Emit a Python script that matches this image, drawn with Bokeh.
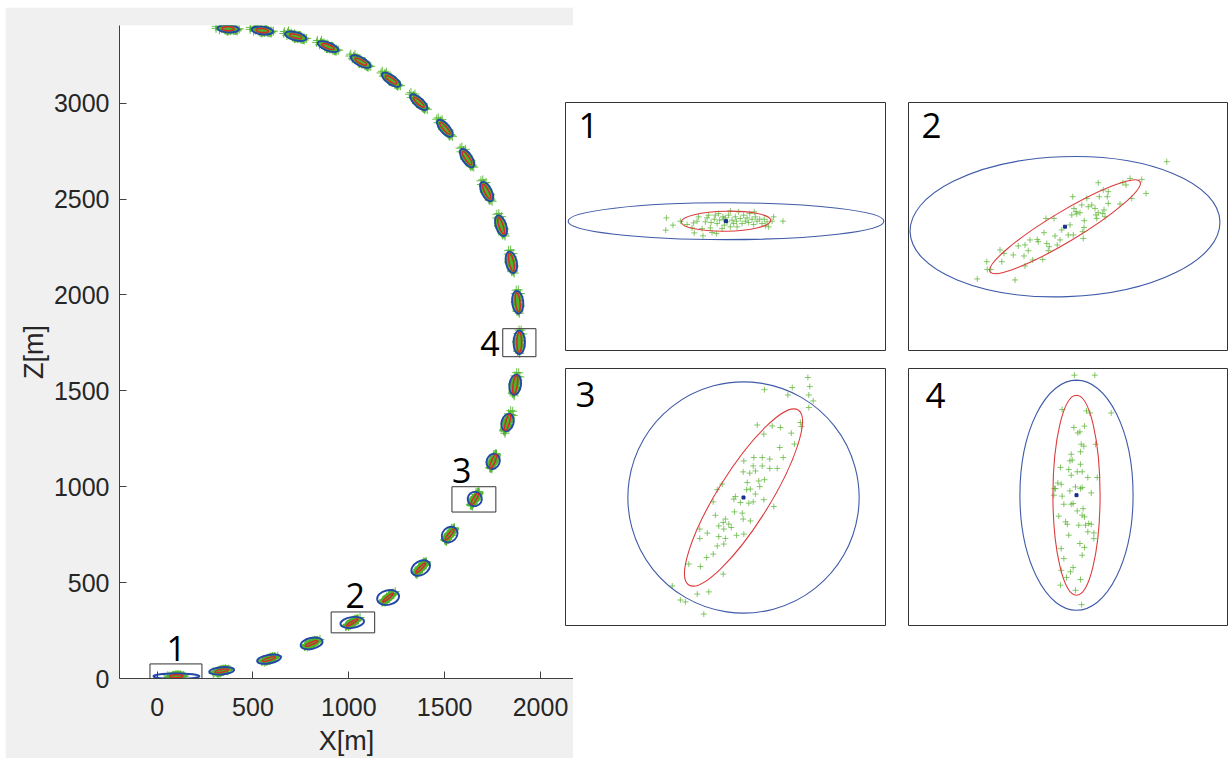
import numpy as np
from bokeh.plotting import figure
from bokeh.models import ColumnDataSource, FixedTicker, Label, Spacer, BoxAnnotation
from bokeh.layouts import row, column
from bokeh.core.properties import value
from bokeh.embed import file_html
from bokeh.resources import INLINE

# ---------------- data (metres) ----------------
traj_x = [101, 337, 584, 806, 1018, 1205, 1375, 1526, 1657, 1753, 1828, 1868, 1889,
          1881, 1848, 1794, 1719, 1617, 1501, 1365, 1221, 1062, 892, 723, 549, 371]
traj_z = [12, 40, 101, 183, 292, 422, 576, 750, 936, 1132, 1335, 1532, 1753,
          1962, 2170, 2361, 2539, 2713, 2869, 3005, 3122, 3217, 3295, 3349, 3379, 3388]

# blue (outer) uncertainty ellipse: semi-axes and orientation (deg)
blue_a = [120, 65, 63, 58, 62, 58, 52, 45, 37, 40, 46, 53, 61,
          59, 57, 56, 55, 55, 55, 56, 56, 57, 57, 57, 56, 56]
blue_b = [14, 19, 22, 29, 28, 38, 36, 37, 37, 34, 31, 30, 30,
          29, 28, 27, 26, 25, 24, 23, 23, 22, 21, 21, 20, 19]
blue_ang = [0, 5, 10, 12, 8, 12, 30, 45, 60, 67, 74, 82, 90,
            96, 102, 109, 117, 124, 131, 138, 145, 152, 159, 166, 174, 177]

# red (inner) ellipse
red_a = [34, 35, 35, 35, 35, 36, 36, 36, 33, 38, 43, 48, 53,
         50, 47, 45, 43, 41, 39, 37, 35, 34, 33, 32, 32, 31]
red_b = [7.6, 7.5, 7, 6.5, 6, 6.5, 7, 7.5, 8.3, 9, 10, 11, 12.5,
         12, 12, 11, 11, 11, 10, 10, 10, 10, 10, 10, 10, 10]
red_ang = [1, 10, 17, 24, 31, 38, 46, 52, 58, 67, 74, 82, 90,
           96, 102, 109, 117, 124, 131, 138, 145, 152, 159, 166, 174, 177]

# sample clouds (offsets in m from the estimate)
in1_dx = [-45.3, -45.8, -40.3, -29.6, -24.6, -24.1, -22.0, -20.8, -18.2, -17.5, -15.7, -14.4, -13.2, -11.4, -10.6,
          -8.9, -7.3, -6.8, -4.8, -3.0, -2.3, -1.8, -1.3, -0.5, 0.8, 2.0, 3.3, 4.6, 5.8, 7.1, 7.9, 9.6, 10.9, 12.2,
          13.4, 14.7, 16.0, 17.2, 18.0, 19.8, 21.0, 22.3, 23.6, 25.6, 27.4, 29.9, 31.2, 32.4, 35.0, 36.2, 43.3,
          -34.7, -25.8, -5.6, 3.3, 21.5, 29.1, -11.9, -8.1, 8.4]
in1_dz = [2.5, -6.8, -3.0, -2.5, -1.3, -8.9, 0.0, 3.3, -5.6, -11.1, -0.5, 2.5, 4.6, -1.0, -8.6,
          1.5, -9.4, -1.8, 0.8, -5.6, 3.3, 1.5, -3.0, 2.5, -0.5, 4.6, -4.3, 0.8, -1.8, 3.3, 0.0, 7.1, 2.0, -1.8,
          4.6, 0.0, 2.5, -1.0, 5.8, 1.5, -2.5, 3.3, 0.0, 1.5, -1.8, -3.5, -0.5, -4.3, 0.0, 3.3, 0.0,
          0.0, -5.1, 5.8, 7.6, 7.1, 1.5, -5.1, 4.6, -4.3]

in2_dx = [40.7, 26.0, 30.7, 32.4, 24.4, 23.1, 13.3, 15.3, 17.3, 13.7, 16.9, 26.7, 17.3, 22.0, 3.1, 6.7, 9.3,
          10.7, 12.0, 13.3, 15.1, 16.0, 12.7, 7.7, 6.0, 4.4, 3.6, 4.7, 2.7, 2.0, 7.6, 7.1, 1.3, 3.3, -1.3, -2.0,
          -4.0, -4.4, -7.6, -8.4, -10.7, -6.3, -6.7, -3.1, -7.3, -14.0, -16.0, -14.7, -16.4, -18.7, -20.7,
          -26.0, -24.4, -25.3, -31.3, -31.1, -29.7, -35.1, -20.0, -16.0, -12.9, -8.9, -11.1, 7.3, 12.4, 15.6, 8.7]
in2_dz = [26.0, 19.3, 18.9, 13.3, 16.7, 17.6, 17.6, 14.7, 14.0, 12.0, 12.0, 11.3, 9.3, 9.1, 12.0, 8.7, 8.0,
          8.7, 7.3, 5.6, 5.3, 4.0, 3.3, 2.4, 5.6, 6.0, 7.3, 5.1, 4.7, 0.7, -0.3, -2.0, -3.3, -3.3, -1.3, -5.3,
          -3.7, 3.3, 3.3, -2.4, -6.0, -8.0, -9.6, -7.3, -6.7, -5.3, -7.3, -9.6, -11.7, -7.7, -11.3,
          -9.3, -10.7, -14.0, -14.0, -17.1, -17.1, -20.9, -21.3, -15.7, -13.3, -13.1, -5.1, -4.7, 4.7, 6.7, 11.3]

in3_dx = [20.6, 21.2, 20.9, 22.3, 20.9, 15.6, 14.2, 6.7, 18.2, 18.5, 15.3, 16.3, 11.8, 9.2, 4.4, 6.5, 11.6,
          12.7, 8.4, 6.0, 3.3, 0.1, 3.1, 6.0, 8.4, 10.8, -0.1, 2.0, 3.8, 4.9, 1.2, 6.7, 2.2, 1.0, 5.2, 3.8, 6.5,
          9.7, 3.1, 1.7, -1.0, -2.6, -3.1, -8.4, -6.8, -9.7, -9.0, -0.4, -2.9, -0.1, 2.2, -5.8, -6.5, -7.9,
          -4.7, -3.9, -6.3, -14.0, -11.6, -7.9, -5.8, -2.2, 0.1, -8.4, -6.3, -9.7, -11.8, -13.8, -17.5, -6.5,
          -11.1, -14.8, -22.8, -20.2, -18.6, -12.7, -14.0]
in3_dz = [38.4, 35.5, 32.8, 30.9, 28.8, 35.2, 32.8, 34.5, 24.0, 22.7, 20.6, 17.1, 22.4, 22.9, 23.2, 20.3, 16.0,
          12.8, 12.3, 12.8, 12.8, 11.7, 10.1, 10.1, 9.3, 9.3, 8.2, 7.8, 8.5, 5.3, 4.8, 5.7, 2.7, 2.5, 3.5, 1.1, -0.7,
          -2.9, -1.4, -1.8, -1.6, 0.3, -0.5, 2.5, 4.3, -1.4, -5.7, -5.0, -4.6, -6.9, -7.5, -6.9, -8.0, -9.1,
          -8.5, -9.6, -10.1, -10.1, -11.4, -12.5, -13.1, -12.1, -11.7, -15.5, -14.9, -18.1, -19.2, -22.1, -21.3, -24.5,
          -30.2, -30.9, -28.3, -32.8, -33.4, -37.3, -13.1]

in4_dx = [-1.1, 9.7, 18.4, -7.6, 5.3, 7.1, -1.4, 1.8, 0.7, 4.2, 2.5, 3.9, 10.1, 2.1, -2.8, -3.5, -2.3, -8.5,
          -4.1, 2.1, 0.4, 3.0, -2.8, 11.0, 6.0, -9.9, -8.1, -0.5, 2.1, 3.0, -11.7, 7.8, -7.6, -12.0, -3.5, -6.7,
          -2.8, -1.8, 0.4, 3.5, 3.0, 4.2, -9.4, -5.8, -4.9, 1.2, 4.8, 6.5, 7.8, 9.2, 6.0, -4.1, 9.2, 1.8, 4.2,
          -8.1, 3.0, -6.7, -8.1, -3.2, -1.8, -5.3, 2.1, -8.5, -0.5, 2.7, -11.1]
in4_dz = [63.6, 63.6, 43.6, 45.4, 44.7, 43.6, 35.9, 33.6, 33.0, 36.6, 27.0, 26.0, 27.0, 23.0, 21.7, 18.2, 18.6, 14.7,
          13.6, 16.4, 12.4, 12.4, 10.6, 9.4, 9.4, 6.5, 5.8, 4.4, 3.5, 4.1, 3.5, 1.2, -0.5, 0.0, 2.3, -4.8,
          -4.8, -4.4, -8.3, -7.1, -10.6, -11.5, -11.1, -14.1, -15.4, -15.9, -15.9, -15.0, -15.4, -20.0, -19.4, -21.2,
          -23.0, -25.6, -27.7, -28.3, -31.8, -33.6, -39.8, -40.6, -38.3, -43.6, -44.7, -47.7, -50.4, -58.0, 3.5]

# zoom boxes and their numbers
box_x0 = [-37, 908, 1538, 1803]
box_x1 = [234, 1135, 1767, 1976]
box_z0 = [-43, 238, 868, 1678]
box_z1 = [76, 347, 1000, 1824]
label_txt = ["1", "2", "3", "4"]
label_x = [100, 1034, 1589, 1736]
label_z = [154, 431, 1083, 1745]

x_ticks = [0, 500, 1000, 1500, 2000]
z_ticks = [0, 500, 1000, 1500, 2000, 2500, 3000]

inset_idx = [0, 4, 8, 12]               # trajectory point shown in each zoom panel
inset_scale = [0.76, 0.40, 0.32, 0.53]  # metres per screen pixel in each panel
cloud_of = [0, 0, 1, 1, 1, 1, 2, 2, 2, 2] + [3] * 16

clouds = [(in1_dx, in1_dz), (in2_dx, in2_dz), (in3_dx, in3_dz), (in4_dx, in4_dz)]

# ---------------- styles ----------------
AX = "#262626"
GREEN = "#4db52a"
BLUE = "#2448a8"
RED = "#d42a2a"

# ---------------- main plot ----------------
n = len(traj_x)
gx, gz = [], []
for i in range(n):
    k = cloud_of[i]
    d = np.radians(red_ang[i] - red_ang[inset_idx[k]])
    dx = np.array(clouds[k][0]); dz = np.array(clouds[k][1])
    gx.extend(traj_x[i] + dx * np.cos(d) - dz * np.sin(d))
    gz.extend(traj_z[i] + dx * np.sin(d) + dz * np.cos(d))

src = ColumnDataSource(dict(
    x=traj_x, z=traj_z,
    bw=[2 * a for a in blue_a], bh=[2 * b for b in blue_b], ba=blue_ang,
    rw=[2 * a for a in red_a], rh=[2 * b for b in red_b], ra=red_ang))

main = figure(frame_width=454, frame_height=653, x_range=(-196, 2172), y_range=(0, 3405),
              output_backend="svg", toolbar_location=None,
              min_border_left=114, min_border_right=0, min_border_top=18, min_border_bottom=77)
main.border_fill_color = "#f0f0f0"
main.background_fill_color = "white"
main.outline_line_color = None
main.grid.visible = False

main.scatter(gx, gz, marker="cross", size=9, line_width=1, line_color=GREEN, line_alpha=0.85)
main.ellipse(x="x", y="z", width="bw", height="bh", angle="ba", angle_units="deg", source=src,
             fill_color=None, line_color=BLUE, line_width=1.9)
main.ellipse(x="x", y="z", width="rw", height="rh", angle="ra", angle_units="deg", source=src,
             fill_color=None, line_color=RED, line_width=1.5)

for j in range(len(box_x0)):
    main.add_layout(BoxAnnotation(left=box_x0[j], right=box_x1[j], bottom=box_z0[j], top=box_z1[j],
                                  fill_alpha=0, line_color="#333333", line_alpha=1.0, line_width=1))
main.text(x=label_x, y=label_z, text=label_txt, text_font=value("Open Sans"), text_font_size="34px",
          text_align="center", text_baseline="alphabetic", text_color="black")

for ax, ticks, lab in ((main.xaxis, x_ticks, "X[m]"), (main.yaxis, z_ticks, "Z[m]")):
    ax.ticker = FixedTicker(ticks=ticks)
    ax.axis_label = lab
    ax.axis_label_text_font = "Liberation Sans"
    ax.axis_label_text_font_size = "27px"
    ax.axis_label_text_font_style = "normal"
    ax.axis_label_text_color = AX
    ax.major_label_text_font = "Liberation Sans"
    ax.major_label_text_font_size = "25px"
    ax.major_label_text_color = AX
    ax.axis_line_color = "#404040"
    ax.major_tick_line_color = "#404040"
    ax.major_tick_in = 7
    ax.major_tick_out = 0
    ax.minor_tick_line_color = None
main.xaxis.major_label_standoff = 19
main.xaxis.axis_label_standoff = 7
main.yaxis.major_label_standoff = 10
main.yaxis.axis_label_standoff = 2

# ---------------- zoom panels ----------------
panel_w = [322, 321, 322, 321]
panel_h = [250, 250, 259, 259]
centre_off = [(161.5, 119.7), (157.5, 125.2), (179, 130), (169, 127.7)]  # px from panel left/top
num_pos = [(13, 225), (13, 225), (10, 231), (17, 230)]


def make_inset(k):
    i = inset_idx[k]
    s = inset_scale[k]
    fw, fh = panel_w[k] - 2, panel_h[k] - 2
    ox, oy = centre_off[k][0] - 1, centre_off[k][1] - 1
    x0 = traj_x[i] - ox * s
    y1 = traj_z[i] + oy * s
    p = figure(frame_width=fw, frame_height=fh, x_range=(x0, x0 + fw * s), y_range=(y1 - fh * s, y1),
               output_backend="svg", toolbar_location=None, min_border=1,
               x_axis_location=None, y_axis_location=None)
    p.grid.visible = False
    p.outline_line_color = "#333333"
    p.outline_line_width = 1
    p.background_fill_color = "white"
    p.border_fill_color = "white"
    dx, dz = clouds[k]
    p.scatter([traj_x[i] + v for v in dx], [traj_z[i] + v for v in dz], marker="cross", size=6,
              line_width=1, line_color="#5fb53a", line_alpha=0.75)
    # the panels show the outer ellipse of that estimate (panel 2 nearly axis-aligned)
    b_ang = 2 if k == 1 else blue_ang[i]
    p.ellipse(x=[traj_x[i]], y=[traj_z[i]], width=[2 * blue_a[i]], height=[2 * blue_b[i]],
              angle=[b_ang], angle_units="deg", fill_color=None, line_color="#3f5aa8", line_width=1.1)
    p.ellipse(x=[traj_x[i]], y=[traj_z[i]], width=[2 * red_a[i]], height=[2 * red_b[i]],
              angle=[red_ang[i]], angle_units="deg", fill_color=None, line_color="#dc3c3c", line_width=1.1)
    p.scatter([traj_x[i]], [traj_z[i]], marker="square", size=3, fill_color="#1a2f8f", line_color="#1a2f8f")
    p.add_layout(Label(x=num_pos[k][0], y=num_pos[k][1], x_units="screen", y_units="screen",
                       text=label_txt[k], text_font="Open Sans", text_font_size="35px",
                       text_color="black", text_baseline="alphabetic", text_align="left"))
    return p


p1, p2, p3, p4 = (make_inset(k) for k in range(4))

right = column(Spacer(height=94), row(p1, Spacer(width=21), p2), Spacer(height=16),
               row(p3, Spacer(width=21), p4), margin=(0, 0, 0, -9))
layout = row(main, right, margin=(7, 0, 0, 5))

open("out.html", "w").write(file_html(layout, INLINE))
